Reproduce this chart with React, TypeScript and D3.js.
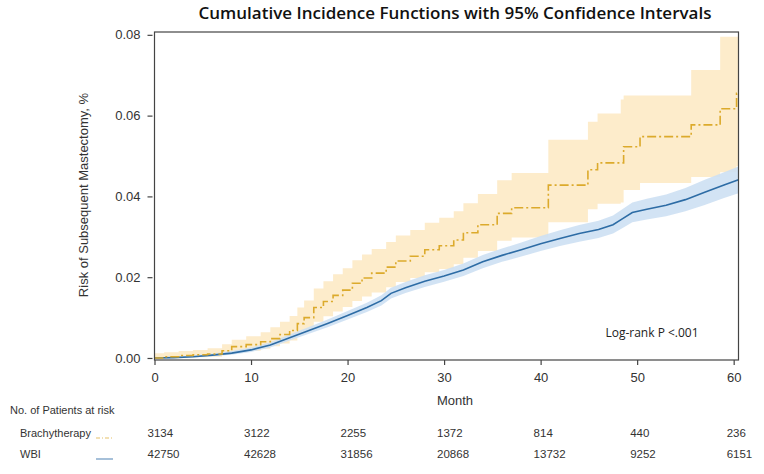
import React, { useRef, useEffect } from 'react';
import * as d3 from 'd3';

// Brachytherapy cumulative incidence (step function)
const brachyMonths = [0, 1, 2.5, 4, 5.5, 7, 8, 9.5, 11, 12, 13, 14, 14.8, 15.5, 16.5, 17.5, 18.5, 19.5, 20.5, 21.5, 22.5, 24, 25, 26.5, 28, 29.5, 31, 32, 33.5, 35.5, 37, 40.8, 44.9, 45.9, 48.3, 48.6, 50.3, 55.6, 58.6, 60.3, 60.5];
const brachyCif = [0, 0.0003, 0.0006, 0.0008, 0.001, 0.0018, 0.0028, 0.0033, 0.004, 0.0048, 0.0058, 0.0068, 0.0085, 0.01, 0.0125, 0.014, 0.0155, 0.0168, 0.0185, 0.0198, 0.021, 0.0225, 0.024, 0.0252, 0.0268, 0.0278, 0.0292, 0.031, 0.033, 0.0358, 0.0372, 0.0428, 0.0466, 0.0483, 0.0483, 0.0523, 0.0548, 0.0577, 0.0617, 0.0655, 0.0655];
const brachyLower = [0, 0, 0.0001, 0.0002, 0.0003, 0.0008, 0.0014, 0.0018, 0.0023, 0.0029, 0.0036, 0.0043, 0.0057, 0.0069, 0.009, 0.0103, 0.0115, 0.0126, 0.0141, 0.0152, 0.0162, 0.0175, 0.0188, 0.0198, 0.0212, 0.022, 0.0232, 0.0248, 0.0265, 0.029, 0.0298, 0.0336, 0.0368, 0.0382, 0.0385, 0.0416, 0.0433, 0.0448, 0.046, 0.0475, 0.0475];
const brachyUpper = [0.0012, 0.0014, 0.0017, 0.002, 0.0024, 0.0034, 0.0045, 0.0054, 0.0064, 0.0076, 0.009, 0.0104, 0.0125, 0.0142, 0.0172, 0.019, 0.0207, 0.0222, 0.0242, 0.0256, 0.027, 0.0287, 0.0303, 0.0317, 0.0335, 0.0347, 0.0363, 0.0383, 0.0406, 0.044, 0.0458, 0.054, 0.0585, 0.0605, 0.064, 0.065, 0.065, 0.0713, 0.0795, 0.0795, 0.0795];

// Whole-breast irradiation cumulative incidence
const wbiMonths = [0, 2, 4, 6, 8, 10, 12, 14, 16, 18, 20, 22, 23.5, 24.5, 26, 28, 30, 32, 34, 36, 38, 40, 42, 44, 46, 47.5, 48.5, 49.5, 51, 53, 55, 57, 59, 60.5];
const wbiCif = [0, 0.0001, 0.0003, 0.0007, 0.0012, 0.002, 0.0032, 0.005, 0.0068, 0.0086, 0.0105, 0.0125, 0.0142, 0.016, 0.0174, 0.019, 0.0203, 0.0218, 0.0238, 0.0254, 0.0268, 0.0283, 0.0296, 0.0308, 0.0318, 0.033, 0.0345, 0.036, 0.0368, 0.0378, 0.0392, 0.041, 0.0428, 0.0441];
const wbiLower = [0, 0, 0.0001, 0.0004, 0.0008, 0.0015, 0.0026, 0.0043, 0.006, 0.0077, 0.0095, 0.0114, 0.013, 0.0147, 0.0161, 0.0176, 0.0189, 0.0203, 0.0222, 0.0238, 0.0251, 0.0265, 0.0277, 0.0288, 0.0297, 0.0308, 0.0322, 0.0336, 0.0343, 0.0351, 0.0363, 0.0379, 0.0396, 0.0408];
const wbiUpper = [0.0001, 0.0003, 0.0006, 0.0011, 0.0017, 0.0026, 0.0039, 0.0058, 0.0077, 0.0096, 0.0116, 0.0137, 0.0155, 0.0174, 0.0188, 0.0205, 0.0218, 0.0234, 0.0255, 0.0271, 0.0286, 0.0302, 0.0316, 0.0329, 0.034, 0.0353, 0.0369, 0.0385, 0.0394, 0.0405, 0.0421, 0.0441, 0.046, 0.0474];

// Axis ticks and number at risk
const xTicks = [0, 10, 20, 30, 40, 50, 60];
const yTicks = [0, 0.02, 0.04, 0.06, 0.08];
const groups = ['Brachytherapy', 'WBI'];
const brachyAtRisk = [3134, 3122, 2255, 1372, 814, 440, 236];
const wbiAtRisk = [42750, 42628, 31856, 20868, 13732, 9252, 6151];

const YELLOW = '#dcaa2c';
const YELLOW_BAND = '#fdeccb';
const BLUE = '#2d6ca5';
const BLUE_BAND = '#cde0f3';

const App = () => {
  const svgRef = useRef(null);

  useEffect(() => {
    const svg = d3.select(svgRef.current);
    svg.selectAll('*').remove();

    const width = 764;
    const height = 474;
    const left = 154.5, right = 738.5, top = 32, bottom = 360;
    const font = '"Liberation Sans", Arial, sans-serif';

    svg.attr('width', width).attr('height', height);

    const x = d3.scaleLinear().domain([0, 60.5]).range([left, right]);
    const y = d3.scaleLinear().domain([-0.0005, 0.0807]).range([bottom, top]);

    const brachy = brachyMonths.map((m, i) => ({ m, v: brachyCif[i], lo: brachyLower[i], hi: brachyUpper[i] }));
    const wbi = wbiMonths.map((m, i) => ({ m, v: wbiCif[i], lo: wbiLower[i], hi: wbiUpper[i] }));

    const plot = svg.append('g');

    // confidence bands
    plot.append('path')
      .datum(brachy)
      .attr('fill', YELLOW_BAND)
      .attr('d', d3.area().curve(d3.curveStepAfter).x(d => x(d.m)).y0(d => y(d.lo)).y1(d => y(d.hi)));

    plot.append('path')
      .datum(wbi)
      .attr('fill', BLUE_BAND)
      .attr('opacity', 0.9)
      .attr('d', d3.area().x(d => x(d.m)).y0(d => y(d.lo)).y1(d => y(d.hi)));

    // estimate lines
    plot.append('path')
      .datum(wbi)
      .attr('fill', 'none')
      .attr('stroke', BLUE)
      .attr('stroke-width', 1.6)
      .attr('d', d3.line().x(d => x(d.m)).y(d => y(d.v)));

    plot.append('path')
      .datum(brachy)
      .attr('fill', 'none')
      .attr('stroke', YELLOW)
      .attr('stroke-width', 1.6)
      .attr('stroke-dasharray', '9,3,2,3')
      .attr('d', d3.line().curve(d3.curveStepAfter).x(d => x(d.m)).y(d => y(d.v)));

    // frame
    svg.append('rect')
      .attr('x', left).attr('y', top)
      .attr('width', right - left).attr('height', bottom - top)
      .attr('fill', 'none').attr('stroke', '#444').attr('stroke-width', 1.2);

    // axes
    const xAxis = svg.append('g')
      .attr('transform', `translate(0,${bottom})`)
      .call(d3.axisBottom(x).tickValues(xTicks).tickSize(5).tickPadding(8).tickSizeOuter(0));
    const yAxis = svg.append('g')
      .attr('transform', `translate(${left - 2},0)`)
      .call(d3.axisLeft(y).tickValues(yTicks).tickFormat(d3.format('.2f')).tickSize(5).tickPadding(7).tickSizeOuter(0));
    yAxis.select('.domain').remove();
    xAxis.select('.domain').remove();
    [xAxis, yAxis].forEach(a => {
      a.selectAll('.tick line').attr('stroke', '#444').attr('stroke-width', 1.2);
      a.selectAll('.tick text').attr('fill', '#333').style('font-family', font).style('font-size', '13px');
    });

    // titles
    svg.append('text')
      .attr('x', 455).attr('y', 19)
      .attr('text-anchor', 'middle')
      .style('font-family', '"Open Sans", sans-serif').style('font-size', '17px').style('font-weight', 600)
      .attr('fill', '#111')
      .text('Cumulative Incidence Functions with 95% Confidence Intervals');

    svg.append('text')
      .attr('transform', `translate(88,195) rotate(-90)`)
      .attr('text-anchor', 'middle')
      .style('font-family', font).style('font-size', '13px')
      .attr('fill', '#333')
      .text('Risk of Subsequent Mastectomy, %');

    svg.append('text')
      .attr('x', 455).attr('y', 405)
      .attr('text-anchor', 'middle')
      .style('font-family', font).style('font-size', '13px')
      .attr('fill', '#333')
      .text('Month');

    svg.append('text')
      .attr('x', 652).attr('y', 337)
      .attr('text-anchor', 'middle')
      .style('font-family', '"Open Sans", sans-serif').style('font-size', '12px')
      .attr('fill', '#222')
      .text('Log-rank P <.001');

    // number at risk table
    svg.append('text')
      .attr('x', 10).attr('y', 414)
      .style('font-family', font).style('font-size', '11px')
      .attr('fill', '#333')
      .text('No. of Patients at risk');

    const rows = [
      { name: groups[0], counts: brachyAtRisk, color: YELLOW, dash: '4,2,1,2', y: 437 },
      { name: groups[1], counts: wbiAtRisk, color: BLUE, dash: null, y: 458 },
    ];
    rows.forEach(r => {
      const g = svg.append('g');
      g.append('text')
        .attr('x', 20).attr('y', r.y)
        .style('font-family', font).style('font-size', '11px')
        .attr('fill', '#333')
        .text(r.name);
      g.append('line')
        .attr('x1', 96).attr('x2', 113).attr('y1', r.y + 1).attr('y2', r.y + 1)
        .attr('stroke', r.color).attr('stroke-width', 1.2).attr('opacity', 0.7)
        .attr('stroke-dasharray', r.dash);
      g.selectAll('text.count')
        .data(r.counts)
        .join('text')
        .attr('class', 'count')
        .attr('x', (d, i) => x(xTicks[i]) - 7)
        .attr('y', r.y)
        .style('font-family', font).style('font-size', '11.5px')
        .attr('fill', '#333')
        .text(d => d);
    });
  }, []);

  return (
    <div style={{ position: 'absolute', left: 0, top: 0 }}>
      <svg ref={svgRef}></svg>
    </div>
  );
};

export default App;
